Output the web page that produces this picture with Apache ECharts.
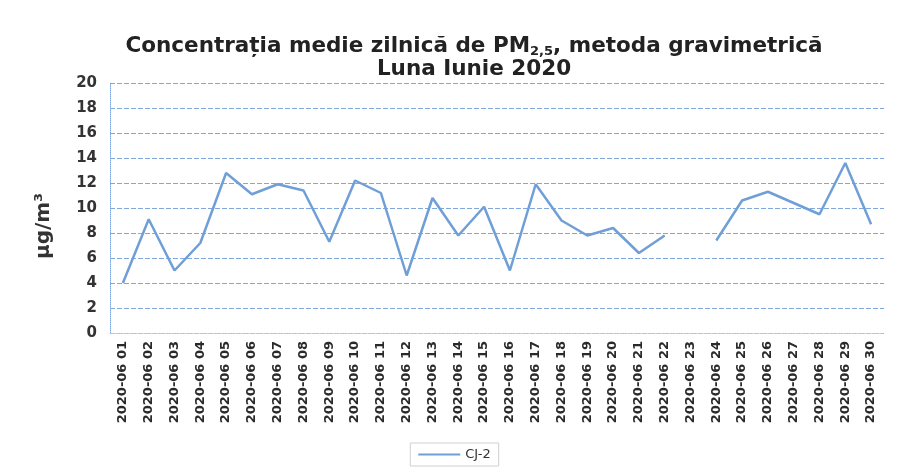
<!DOCTYPE html>
<html>
<head>
<meta charset="utf-8">
<script src="https://cdn.jsdelivr.net/npm/echarts@6/dist/echarts.min.js"></script>
<style>
html,body{margin:0;padding:0;background:#fff;}
#chart{width:909px;height:475px;}
</style>
</head>
<body>
<div id="chart"></div>
<script>
const categories = ["2020-06 01","2020-06 02","2020-06 03","2020-06 04","2020-06 05","2020-06 06","2020-06 07","2020-06 08","2020-06 09","2020-06 10","2020-06 11","2020-06 12","2020-06 13","2020-06 14","2020-06 15","2020-06 16","2020-06 17","2020-06 18","2020-06 19","2020-06 20","2020-06 21","2020-06 22","2020-06 23","2020-06 24","2020-06 25","2020-06 26","2020-06 27","2020-06 28","2020-06 29","2020-06 30"];
const cj2 = [4.0,9.1,5.0,7.2,12.8,11.1,11.9,11.4,7.3,12.2,11.2,4.6,10.8,7.8,10.1,5.0,11.9,9.0,7.8,8.4,6.4,7.8,null,7.4,10.6,11.3,10.4,9.5,13.6,8.7];
const seriesName = "CJ-2";
const yMin = 0, yMax = 20, yStep = 2;

const chart = echarts.init(document.getElementById('chart'));
chart.setOption({
  animation:false,
  backgroundColor:'#fff',
  title:{
    text:'{t|Concentrația medie zilnică de PM}{s|2,5}{t|, metoda gravimetrică}\n{t|Luna Iunie 2020}',
    left:469, top:30, textAlign:'center',
    textStyle:{
      rich:{
        t:{fontFamily:'DejaVu Sans',fontWeight:'bold',fontSize:21.5,color:'#222',lineHeight:23},
        s:{fontFamily:'DejaVu Sans',fontWeight:'bold',fontSize:13,color:'#222',verticalAlign:'bottom',padding:[9,0,0,0],lineHeight:23}
      }
    }
  },
  legend:{
    data:[seriesName], bottom:9, left:'center',
    borderColor:'#cfcfcf', borderWidth:1, padding:[5,8,5,8],
    itemWidth:42, itemHeight:2, icon:'rect',
    textStyle:{fontFamily:'DejaVu Sans',fontSize:13,color:'#333'}
  },
  grid:{left:110,right:25,top:83,bottom:142,containLabel:false},
  xAxis:{
    type:'category', data:categories, boundaryGap:true,
    axisLine:{show:true,lineStyle:{color:'#b8cfe9',type:'dotted',width:1}},
    axisTick:{show:false},
    axisLabel:{rotate:90,interval:0,fontFamily:'DejaVu Sans',fontWeight:'bold',fontSize:13,color:'#2a2a2a',margin:8}
  },
  yAxis:{
    type:'value', min:yMin, max:yMax, interval:yStep,
    name:'µg/m³', nameLocation:'middle', nameGap:56,
    nameTextStyle:{fontFamily:'DejaVu Sans',fontWeight:'bold',fontSize:20,color:'#333',padding:[0,36,0,0]},
    axisLine:{show:true,lineStyle:{color:'#7fa8dc',type:'dotted',width:1}},
    axisTick:{show:false},
    axisLabel:{fontFamily:'DejaVu Sans',fontWeight:'bold',fontSize:15,color:'#333',margin:13},
    splitLine:{show:true,lineStyle:{color:'#7fa8dc',type:[5,2],width:1}}
  },
  series:[{
    name:seriesName, type:'line', data:cj2, connectNulls:false,
    symbol:'none', lineStyle:{color:'#6f9fd6',width:2.5}, itemStyle:{color:'#6f9fd6'}
  }]
});
</script>
</body>
</html>
